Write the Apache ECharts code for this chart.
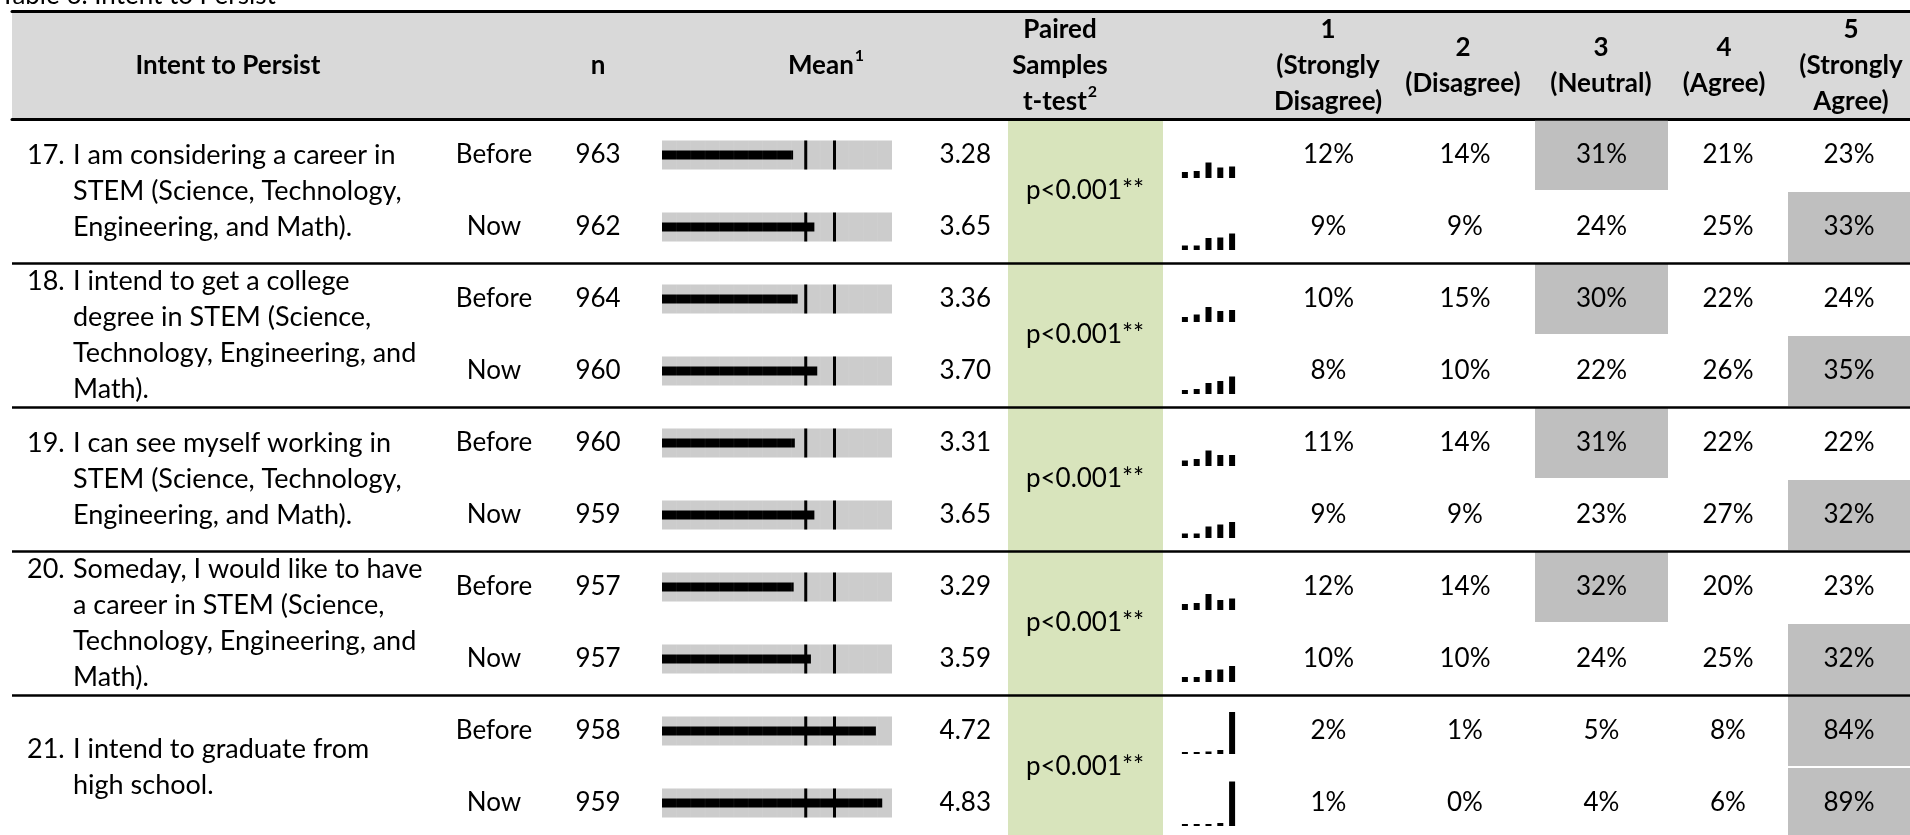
<!DOCTYPE html>
<html><head><meta charset="utf-8">
<script src="https://cdn.jsdelivr.net/npm/echarts@6/dist/echarts.min.js"></script>
<style>html,body{margin:0;padding:0;background:#fff;overflow:hidden}#c{width:1910px;height:835px}</style>
</head><body><div id="c"></div>
<script>
// ---------------- data ----------------
const titleText = 'Table 6. Intent to Persist';
const questionNumbers = ['17.', '18.', '19.', '20.', '21.'];
const questionLines = [
  ['I am considering a career in', 'STEM (Science, Technology,', 'Engineering, and Math).'],
  ['I intend to get a college', 'degree in STEM (Science,', 'Technology, Engineering, and', 'Math).'],
  ['I can see myself working in', 'STEM (Science, Technology,', 'Engineering, and Math).'],
  ['Someday, I would like to have', 'a career in STEM (Science,', 'Technology, Engineering, and', 'Math).'],
  ['I intend to graduate from', 'high school.']
];
const phases = ['Before', 'Now', 'Before', 'Now', 'Before', 'Now', 'Before', 'Now', 'Before', 'Now'];
const nValues = [963, 962, 964, 960, 960, 959, 957, 957, 958, 959];
const means = [3.28, 3.65, 3.36, 3.70, 3.31, 3.65, 3.29, 3.59, 4.72, 4.83];
const meanScale = [1, 5];
const meanMarks = [3.5, 4.0];
const pValues = ['p<0.001**', 'p<0.001**', 'p<0.001**', 'p<0.001**', 'p<0.001**'];
const pct1 = [12, 9, 10, 8, 11, 9, 12, 10, 2, 1];
const pct2 = [14, 9, 15, 10, 14, 9, 14, 10, 1, 0];
const pct3 = [31, 24, 30, 22, 31, 23, 32, 24, 5, 4];
const pct4 = [21, 25, 22, 26, 22, 27, 20, 25, 8, 6];
const pct5 = [23, 33, 24, 35, 22, 32, 23, 32, 84, 89];
const pctColumns = [pct1, pct2, pct3, pct4, pct5];
const headerTexts = ['Intent to Persist', 'n', 'Mean{sup|1}', 'Paired\nSamples\nt-test{sup|2}',
  '1\n(Strongly\nDisagree)', '2\n(Disagree)', '3\n(Neutral)', '4\n(Agree)', '5\n(Strongly\nAgree)'];

// ---------------- layout / style ----------------
const FONT = 'Lato';
const FS = 26;
const QFS = 27;
const HFS = 26;
const LH = 36;
const HEAD_TOP = 11, BODY_TOP = 119, ROW_H = 72, NROWS = 10;
const BODY_H = ROW_H * NROWS;
const MEAN_L = 662, MEAN_W = 230;
const GREEN_L = 1008, GREEN_W = 155;
const SPARK_L = 1179, SPARK_W = 59, SPARK_H = 50, SPARK_DROP = 23;
const PCT_EDGES = [1262, 1395, 1535, 1668, 1788, 1910];
const headerX = [228, 598, 826, 1060, 1328, 1463, 1601, 1724, 1851];
const rowIds = phases.map((_, i) => String(i));
const groupIds = questionNumbers.map((_, i) => String(i));

const grids = [], xAxes = [], yAxes = [], series = [];
function addGrid(g) { grids.push(Object.assign({ outerBoundsMode: 'none', containLabel: false, show: false }, g)); return grids.length - 1; }
function hiddenAxis(extra) {
  return Object.assign({ axisLine: { show: false }, axisTick: { show: false }, axisLabel: { show: false }, splitLine: { show: false } }, extra);
}
function labelAxis(gridIndex, data, position, offset, align, formatter, extra) {
  return {
    type: 'category', gridIndex, data, inverse: true, position, offset,
    axisLine: { show: false }, axisTick: { show: false }, splitLine: { show: false },
    axisLabel: Object.assign({ show: true, interval: 0, align, margin: 0, color: '#000',
      fontFamily: FONT, fontSize: FS, lineHeight: LH, formatter }, extra || {})
  };
}

// header band
const gHead = addGrid({ left: 12, right: 0, top: HEAD_TOP, height: BODY_TOP - HEAD_TOP, show: true, backgroundColor: '#d9d9d9', borderWidth: 0 });
xAxes.push(hiddenAxis({ type: 'value', gridIndex: gHead, position: 'top', axisLine: { show: true, onZero: false, lineStyle: { color: '#000', width: 3 } } }));
xAxes.push(hiddenAxis({ type: 'value', gridIndex: gHead, position: 'bottom', axisLine: { show: true, onZero: false, lineStyle: { color: '#000', width: 3 } } }));
yAxes.push(hiddenAxis({ type: 'category', gridIndex: gHead, data: ['h'] }));

// green t-test column
const gGreen = addGrid({ left: GREEN_L, width: GREEN_W, top: BODY_TOP, height: BODY_H, show: true, backgroundColor: '#d8e4bc', borderWidth: 0 });
xAxes.push(hiddenAxis({ type: 'value', gridIndex: gGreen }));
yAxes.push(hiddenAxis({ type: 'category', gridIndex: gGreen, data: groupIds }));

// percent columns (cells with highlight of row maximum)
pctColumns.forEach((col, c) => {
  const g = addGrid({ left: PCT_EDGES[c], width: PCT_EDGES[c + 1] - PCT_EDGES[c], top: BODY_TOP, height: BODY_H });
  xAxes.push(hiddenAxis({ type: 'value', gridIndex: g, min: 0, max: 1 }));
  yAxes.push(hiddenAxis({ type: 'category', gridIndex: g, data: rowIds, inverse: true }));
  series.push({
    type: 'bar', xAxisIndex: xAxes.length - 1, yAxisIndex: yAxes.length - 1,
    barCategoryGap: '3%', silent: true, animation: false,
    data: col.map((v, r) => {
      const rowMax = Math.max(...pctColumns.map(cc => cc[r]));
      return { value: 1, itemStyle: { color: v === rowMax ? '#bfbfbf' : 'rgba(0,0,0,0)' } };
    }),
    label: { show: true, position: 'inside', color: '#000', fontFamily: FONT, fontSize: FS,
      formatter: p => col[p.dataIndex] + '%' }
  });
});

// group separators
const gSep = addGrid({ left: 12, right: 0, top: BODY_TOP, height: BODY_H });
xAxes.push(hiddenAxis({ type: 'value', gridIndex: gSep }));
yAxes.push(hiddenAxis({ type: 'category', gridIndex: gSep, data: groupIds, inverse: true, z: 50,
  splitLine: { show: true, lineStyle: { color: '#000', width: 2.5 } } }));

// mean column + text columns via axes
const gMean = addGrid({ left: MEAN_L, width: MEAN_W, top: BODY_TOP, height: BODY_H });
xAxes.push(hiddenAxis({ type: 'value', gridIndex: gMean, min: meanScale[0], max: meanScale[1] }));
const xMean = xAxes.length - 1;
yAxes.push(hiddenAxis({ type: 'category', gridIndex: gMean, data: rowIds, inverse: true }));
const yMeanRows = yAxes.length - 1;
yAxes.push(labelAxis(gMean, rowIds, 'left', MEAN_L - 494, 'center', (v, i) => phases[i]));
yAxes.push(labelAxis(gMean, rowIds, 'left', MEAN_L - 598, 'center', (v, i) => String(nValues[i])));
yAxes.push(labelAxis(gMean, rowIds, 'right', 991 - (MEAN_L + MEAN_W), 'right', (v, i) => means[i].toFixed(2)));
yAxes.push(labelAxis(gMean, groupIds, 'right', 1085 - (MEAN_L + MEAN_W), 'center', (v, i) => pValues[i]));
yAxes.push(labelAxis(gMean, groupIds, 'left', MEAN_L - 27, 'left', (v, i) => questionNumbers[i] + '\n'.repeat(questionLines[i].length - 1), { fontSize: QFS }));
yAxes.push(labelAxis(gMean, groupIds, 'left', MEAN_L - 73, 'left', (v, i) => questionLines[i].join('\n'), { fontSize: QFS }));

series.push({
  type: 'custom', xAxisIndex: xMean, yAxisIndex: yMeanRows, silent: true, animation: false,
  data: means.map((m, i) => [m, i]),
  renderItem: function (params, api) {
    const m = api.value(0), r = api.value(1);
    const p0 = api.coord([meanScale[0], r]);
    const p1 = api.coord([meanScale[1], r]);
    const pm = api.coord([m, r]);
    const cy = p0[1];
    const BG_H = 29, BAR_H = 9, MARK_W = 3;
    const children = [
      { type: 'rect', shape: { x: p0[0], y: cy - BG_H / 2, width: p1[0] - p0[0], height: BG_H }, style: { fill: '#cccccc' } },
      { type: 'rect', shape: { x: p0[0], y: cy - BAR_H / 2, width: pm[0] - p0[0], height: BAR_H }, style: { fill: '#000' } }
    ];
    for (let t = meanScale[0] + 0.25; t < meanScale[1]; t += 0.25) {
      const pt = api.coord([t, r]);
      children.push({ type: 'line', shape: { x1: pt[0], y1: cy - BG_H / 2, x2: pt[0], y2: cy + BG_H / 2 }, style: { stroke: 'rgba(255,255,255,0.07)', lineWidth: 1 } });
    }
    meanMarks.forEach(v => {
      const pv = api.coord([v, r]);
      children.push({ type: 'rect', shape: { x: pv[0] - MARK_W / 2, y: cy - BG_H / 2, width: MARK_W, height: BG_H }, style: { fill: '#000' } });
    });
    return { type: 'group', children };
  }
});

// sparklines: one tiny grid per row
for (let r = 0; r < NROWS; r++) {
  const center = BODY_TOP + ROW_H * (r + 0.5);
  const g = addGrid({ left: SPARK_L, width: SPARK_W, top: center + SPARK_DROP - SPARK_H, height: SPARK_H });
  xAxes.push(hiddenAxis({ type: 'category', gridIndex: g, data: ['1', '2', '3', '4', '5'] }));
  yAxes.push(hiddenAxis({ type: 'value', gridIndex: g, min: 0, max: 100 }));
  series.push({
    type: 'bar', xAxisIndex: xAxes.length - 1, yAxisIndex: yAxes.length - 1, silent: true, animation: false,
    barWidth: 6, barMinHeight: 2, itemStyle: { color: '#000' },
    data: pctColumns.map(col => col[r])
  });
}

// header + title texts
const graphic = [{
  type: 'text', x: 0, y: 9, silent: true,
  style: { text: titleText, font: '26px ' + FONT, fill: '#000', textAlign: 'left', textVerticalAlign: 'bottom' }
}];
headerTexts.forEach((t, i) => {
  graphic.push({
    type: 'text', x: headerX[i], y: (HEAD_TOP + BODY_TOP) / 2 + 1, silent: true, z: 100,
    style: { text: t, fontFamily: FONT, fontWeight: 'bold', fontSize: HFS, fill: '#000', textAlign: 'center', textVerticalAlign: 'middle', lineHeight: LH,
      rich: { sup: { fontFamily: FONT, fontWeight: 'bold', fontSize: 16, lineHeight: LH, verticalAlign: 'top', padding: [0, 0, 10, 1] } } }
  });
});

const chart = echarts.init(document.getElementById('c'), null, { renderer: 'canvas' });
chart.setOption({
  animation: false,
  backgroundColor: '#fff',
  textStyle: { fontFamily: FONT },
  grid: grids, xAxis: xAxes, yAxis: yAxes, series, graphic
});
</script></body></html>
